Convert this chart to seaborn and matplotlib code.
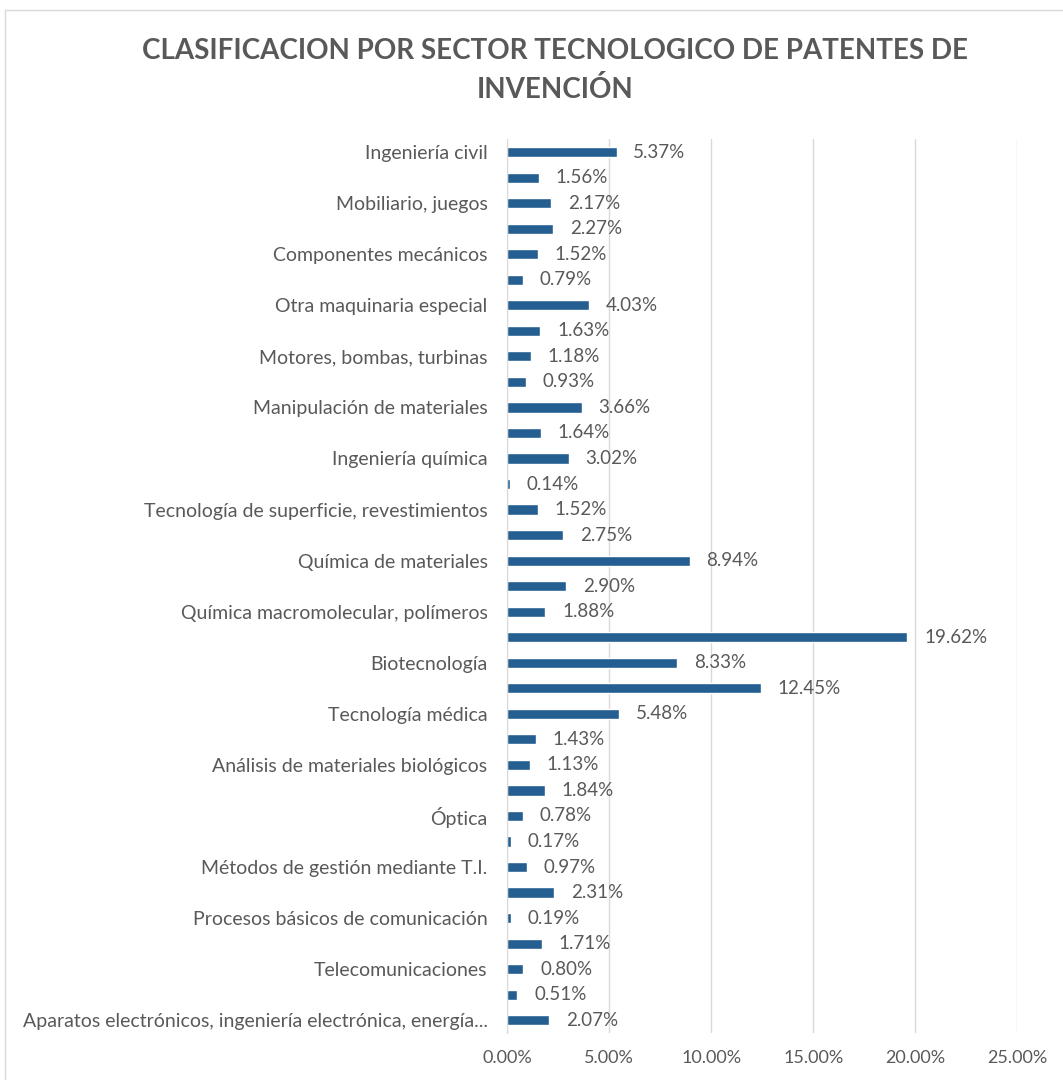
import numpy as np
import pandas as pd
import matplotlib
matplotlib.use("Agg")
import matplotlib.pyplot as plt
import seaborn as sns
from matplotlib.patches import Rectangle

# categories listed top to bottom, as in the chart
sectores = [
    "Ingeniería civil", "Otros bienes de consumo", "Mobiliario, juegos", "Transporte",
    "Componentes mecánicos", "Procesos y aparatos térmicos", "Otra maquinaria especial",
    "Máquinas textiles y de papel", "Motores, bombas, turbinas", "Máquinas herramienta",
    "Manipulación de materiales", "Tecnología ambiental", "Ingeniería química",
    "Microestructuras y nanotecnología", "Tecnología de superficie, revestimientos",
    "Materiales, metalurgia", "Química de materiales", "Química de alimentos",
    "Química macromolecular, polímeros", "Productos farmacéuticos", "Biotecnología",
    "Química fina orgánica", "Tecnología médica", "Control",
    "Análisis de materiales biológicos", "Medición", "Óptica", "Semiconductores",
    "Métodos de gestión mediante T.I.", "Tecnología informática",
    "Procesos básicos de comunicación", "Comunicación digital", "Telecomunicaciones",
    "Tecnología audiovisual", "Aparatos electrónicos, ingeniería electrónica, energía...",
]
porcentajes = [
    5.37, 1.56, 2.17, 2.27, 1.52, 0.79, 4.03, 1.63, 1.18, 0.93, 3.66, 1.64, 3.02, 0.14,
    1.52, 2.75, 8.94, 2.90, 1.88, 19.62, 8.33, 12.45, 5.48, 1.43, 1.13, 1.84, 0.78, 0.17,
    0.97, 2.31, 0.19, 1.71, 0.80, 0.51, 2.07,
]
ticks_x = [0, 5, 10, 15, 20, 25]

df = pd.DataFrame({"sector": sectores, "pct": porcentajes})

sns.set_style("white")
plt.rcParams["font.family"] = ["Lato", "DejaVu Sans"]
gris = "#595959"

fig = plt.figure(figsize=(10.63, 10.8), dpi=100)
ax = fig.add_axes([0.477, 0.0435, 0.48, 0.8275])

sns.barplot(data=df, x="pct", y="sector", orient="h", color="#255E91",
            saturation=1, width=0.4, ax=ax)
ax.bar_label(ax.containers[0], labels=[f"{v:.2f}%" for v in porcentajes],
             padding=12, fontsize=13.5, color=gris)

ax.set_xlim(0, 25)
ax.set_xticks(ticks_x)
ax.set_xticklabels([f"{t:.2f}%" for t in ticks_x], fontsize=13, color=gris)
# Excel only shows every other category name
ax.set_yticks(range(len(sectores)))
ax.set_yticklabels([s if i % 2 == 0 else "" for i, s in enumerate(sectores)],
                   fontsize=14, color=gris)
ax.tick_params(axis="y", length=0, pad=14)
ax.tick_params(axis="x", length=0, pad=12)
ax.set_xlabel("")
ax.set_ylabel("")
ax.grid(axis="x", color="#d9d9d9", linewidth=1)
ax.set_axisbelow(True)
for side in ["top", "right", "bottom"]:
    ax.spines[side].set_visible(False)
ax.spines["left"].set_color("#d9d9d9")

fig.text(0.522, 0.965, "CLASIFICACION POR SECTOR TECNOLOGICO DE PATENTES DE\nINVENCIÓN",
         ha="center", va="top", fontsize=20, fontweight="bold", color=gris,
         linespacing=1.55)

fig.patches.append(Rectangle((0.005, -0.01), 1.0, 1 - 0.0093 + 0.01, transform=fig.transFigure,
                             fill=False, edgecolor="#d9d9d9", linewidth=1))

fig.savefig("out.png", dpi=100, facecolor="white")
